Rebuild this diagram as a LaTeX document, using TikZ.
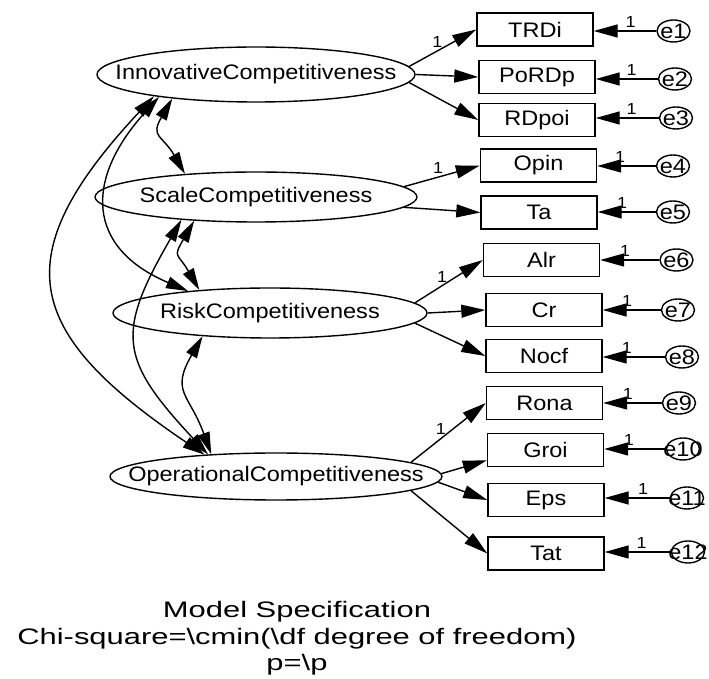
\documentclass[tikz,border=0pt]{standalone}
\usepackage{fontspec}
\setmainfont{Liberation Sans}[FakeStretch=1.12]
\newfontfamily\specfont{Liberation Sans}[FakeStretch=1.38]
\usepackage{tikz}
\usetikzlibrary{positioning, shapes, arrows.meta}

\begin{document}
\begin{tikzpicture}[
      x=0.5pt, y=0.5pt, line width=0.7pt,
      font=\fontsize{10.5}{12}\selectfont,
      lat/.style={ellipse, draw, inner sep=0pt},
      obs/.style={rectangle, draw, minimum width=58pt, minimum height=16.5pt, inner sep=0pt},
      err/.style={ellipse, draw, minimum width=16.5pt, minimum height=11pt, inner sep=0pt},
      one/.style={font=\fontsize{8}{9}\selectfont, inner sep=1.5pt},
      ld/.style={-{Triangle[length=12pt, width=6.5pt]}},
      cov/.style={{Triangle[length=11pt, width=6pt]}-{Triangle[length=11pt, width=6pt]}}]
    \useasboundingbox (0,0) rectangle (709,-679);
    % latent variables
    \node[lat, minimum width=159pt, minimum height=27.5pt] (inn) at (256,-74.5) {\makebox[0pt]{InnovativeCompetitiveness}};
    \node[lat, minimum width=161pt, minimum height=25pt] (sca) at (256,-197) {\makebox[0pt]{ScaleCompetitiveness}};
    \node[lat, minimum width=157pt, minimum height=25pt] (ris) at (270,-313) {\makebox[0pt]{RiskCompetitiveness}};
    \node[lat, minimum width=166pt, minimum height=23.5pt] (ope) at (276,-476.5) {\makebox[0pt]{OperationalCompetitiveness}};
    % observed variables
    \node[obs] (trdi) at (535,-29.5) {TRDi};
    \node[obs] (pord) at (537,-77) {PoRDp};
    \node[obs] (rdpo) at (537,-120) {RDpoi};
    \node[obs] (opin) at (538.5,-165.5) {Opin};
    \node[obs] (ta) at (539,-212.5) {Ta};
    \node[obs] (alr) at (541.5,-260) {Alr};
    \node[obs] (cr) at (544,-310) {Cr};
    \node[obs] (nocf) at (544,-356) {Nocf};
    \node[obs] (rona) at (544.5,-403) {Rona};
    \node[obs] (groi) at (545.5,-450) {Groi};
    \node[obs] (eps) at (546,-500) {Eps};
    \node[obs] (tat) at (546,-553.5) {Tat};
    % error terms
    \node[err] (e1) at (673.5,-31) {\makebox[0pt]{e1}};
    \node[err] (e2) at (675,-79) {\makebox[0pt]{e2}};
    \node[err] (e3) at (676,-118) {\makebox[0pt]{e3}};
    \node[err] (e4) at (673,-166) {\makebox[0pt]{e4}};
    \node[err] (e5) at (673,-212) {\makebox[0pt]{e5}};
    \node[err] (e6) at (676.5,-260) {\makebox[0pt]{e6}};
    \node[err] (e7) at (678,-310) {\makebox[0pt]{e7}};
    \node[err] (e8) at (682,-357) {\makebox[0pt]{e8}};
    \node[err] (e9) at (679,-403) {\makebox[0pt]{e9}};
    \node[err] (e10) at (683,-449) {\makebox[0pt]{e10}};
    \node[err] (e11) at (687,-498) {\makebox[0pt]{e11}};
    \node[err] (e12) at (688,-552) {\makebox[0pt]{e12}};
    % loadings
    \draw[ld] (inn.3) -- (trdi.west) node[pos=.42, above, one] {1};
    \draw[ld] (inn.east) -- (pord.west);
    \draw[ld] (inn.-3) -- (rdpo.west);
    \draw[ld] (sca.4) -- (opin.west) node[pos=.45, above, one] {1};
    \draw[ld] (sca.-4) -- (ta.west);
    \draw[ld] (ris.4) -- (alr.west) node[pos=.4, above, one] {1};
    \draw[ld] (ris.east) -- (cr.west);
    \draw[ld] (ris.-4) -- (nocf.west);
    \draw[ld] (ope.6) -- (rona.west) node[pos=.4, above, one] {1};
    \draw[ld] (ope.1.5) -- (groi.190);
    \draw[ld] (ope.-2.5) -- (eps.west);
    \draw[ld] (ope.-6) -- (tat.west);
    % error paths
    \draw[ld] (e1) -- (e1 -| trdi.east) node[pos=.41, above, one] {1};
    \draw[ld] (e2) -- (e2 -| pord.east) node[pos=.42, above, one] {1};
    \draw[ld] (e3) -- (e3 -| rdpo.east) node[pos=.43, above, one] {1};
    \draw[ld] (e4) -- (e4 -| opin.east) node[pos=.61, above, one] {1};
    \draw[ld] (e5) -- (e5 -| ta.east) node[pos=.58, above, one] {1};
    \draw[ld] (e6) -- (e6 -| alr.east) node[pos=.58, above, one] {1};
    \draw[ld] (e7) -- (e7 -| cr.east) node[pos=.58, above, one] {1};
    \draw[ld] (e8) -- (e8 -| nocf.east) node[pos=.61, above, one] {1};
    \draw[ld] (e9) -- (e9 -| rona.east) node[pos=.58, above, one] {1};
    \draw[ld] (e10) -- (e10 -| groi.east) node[pos=.6, above, one] {1};
    \draw[ld] (e11) -- (e11 -| eps.east) node[pos=.41, above, one] {1};
    \draw[ld] (e12) -- (e12 -| tat.east) node[pos=.44, above, one] {1};
    % covariances
    \draw[cov] (inn.196) to[out=240, in=120, looseness=1.5] (sca.162);
    \draw[cov] (inn.193) to[out=228, in=157, looseness=1.45] (ris.165);
    \draw[cov] (inn.192) to[out=227, in=146, looseness=1.55] (ope.163);
    \draw[cov] (sca.201) to[out=240, in=120, looseness=1.6] (ris.162);
    \draw[cov] (sca.197) to[out=240, in=133, looseness=1.42] (ope.162);
    \draw[cov] (ris.199) to[out=240, in=110, looseness=1.4] (ope.161);
    % caption
    \node[align=center, font=\specfont\fontsize{11.2}{13.25}\selectfont] (spec) at (297,-638.5)
      {Model Specification\\Chi-square=\textbackslash cmin(\textbackslash df degree of freedom)\\p=\textbackslash p};
\end{tikzpicture}
\end{document}
